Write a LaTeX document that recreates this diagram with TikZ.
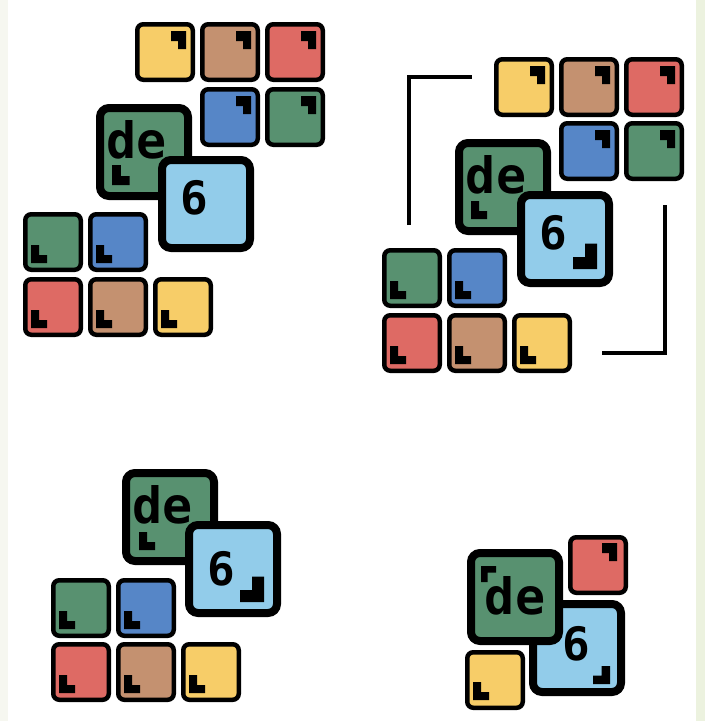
\documentclass[tikz,border=0pt]{standalone}
\usepackage{xcolor}
\usepackage{tikz}
\usepackage{fontspec}
\newfontfamily\pixfont{DejaVu Sans Mono}

\definecolor{tyellow}{RGB}{247,205,104}
\definecolor{tbrown}{RGB}{196,145,112}
\definecolor{tred}{RGB}{222,106,100}
\definecolor{tblue}{RGB}{86,134,199}
\definecolor{tgreen}{RGB}{88,145,112}
\definecolor{tsky}{RGB}{146,204,234}
\definecolor{edgeleft}{RGB}{246,247,240}
\definecolor{edgeright}{RGB}{236,242,223}

\begin{document}
\begin{tikzpicture}[x=1pt,y=-1pt]
  \tikzstyle{tile} = [draw, line width=4.5pt, rounded corners=6pt, minimum size=55.5pt, inner sep=0pt]
  \tikzstyle{bigtile} = [draw, line width=8pt, rounded corners=9pt, minimum size=88pt, inner sep=0pt]
  \tikzstyle{word} = [inner sep=0pt, font=\pixfont\bfseries\fontsize{50}{50}\selectfont]
  \tikzstyle{digit} = [inner sep=0pt, font=\pixfont\bfseries\fontsize{46}{46}\selectfont]
  \tikzstyle{bracket} = [line width=3.4pt]
  \tikzset{
    sw mark/.pic={\fill (0,0) -- (0,-18) -- (8,-18) -- (8,-8) -- (16,-8) -- (16,0) -- cycle;},
    ne mark/.pic={\fill (0,0) -- (-15,0) -- (-15,10) -- (-8,10) -- (-8,18) -- (0,18) -- cycle;},
    se mark/.pic={\fill (0,0) -- (0,-17) -- (-8,-17) -- (-8,-8) -- (-16,-8) -- (-16,0) -- cycle;},
    nw mark/.pic={\fill (0,0) -- (16,0) -- (16,7) -- (7,7) -- (7,17) -- (0,17) -- cycle;}
  }

  \useasboundingbox (0,0) rectangle (705,721);
  \fill[edgeleft] (0,0) rectangle (8,721);
  \fill[edgeright] (696,0) rectangle (705,721);

  % top left group
  \node[tile, fill=tyellow] (aYel1) at (165,52) {};
  \node[tile, fill=tbrown] (aBrn1) at (230,52) {};
  \node[tile, fill=tred] (aRed1) at (295,52) {};
  \node[tile, fill=tblue] (aBlu1) at (230,117) {};
  \node[tile, fill=tgreen] (aGrn1) at (295,117) {};
  \node[tile, fill=tgreen] (aGrn2) at (53,242) {};
  \node[tile, fill=tblue] (aBlu2) at (118,242) {};
  \node[tile, fill=tred] (aRed2) at (53,307) {};
  \node[tile, fill=tbrown] (aBrn2) at (118,307) {};
  \node[tile, fill=tyellow] (aYel2) at (183,307) {};
  \foreach \n in {aYel1,aBrn1,aRed1,aBlu1,aGrn1}
    \pic at ([shift={(-9,9)}]\n.north east) {ne mark};
  \foreach \n in {aGrn2,aBlu2,aRed2,aBrn2,aYel2}
    \pic at ([shift={(8,-9)}]\n.south west) {sw mark};
  \node[bigtile, fill=tgreen] (aDe) at (144,152) {};
  \node[word] (aDeTxt) at ([shift={(-7,-12)}]aDe.center) {de};
  \pic[scale=1.1] at ([shift={(16,-15)}]aDe.south west) {sw mark};
  \node[bigtile, fill=tsky] (aSix) at (206,204) {};
  \node[digit] (aSixTxt) at ([shift={(-12,-6)}]aSix.center) {6};

  % top right group
  \node[tile, fill=tyellow] (bYel1) at (524,87) {};
  \node[tile, fill=tbrown] (bBrn1) at (589,87) {};
  \node[tile, fill=tred] (bRed1) at (654,87) {};
  \node[tile, fill=tblue] (bBlu1) at (589,151) {};
  \node[tile, fill=tgreen] (bGrn1) at (654,151) {};
  \node[tile, fill=tgreen] (bGrn2) at (412,278) {};
  \node[tile, fill=tblue] (bBlu2) at (477,278) {};
  \node[tile, fill=tred] (bRed2) at (412,343) {};
  \node[tile, fill=tbrown] (bBrn2) at (477,343) {};
  \node[tile, fill=tyellow] (bYel2) at (542,343) {};
  \foreach \n in {bYel1,bBrn1,bRed1,bBlu1,bGrn1}
    \pic at ([shift={(-9,9)}]\n.north east) {ne mark};
  \foreach \n in {bGrn2,bBlu2,bRed2,bBrn2,bYel2}
    \pic at ([shift={(8,-9)}]\n.south west) {sw mark};
  \node[bigtile, fill=tgreen] (bDe) at (503,187) {};
  \node[word] (bDeTxt) at ([shift={(-7,-12)}]bDe.center) {de};
  \pic at ([shift={(16,-16)}]bDe.south west) {sw mark};
  \node[bigtile, fill=tsky] (bSix) at (565,239) {};
  \node[digit] (bSixTxt) at ([shift={(-12,-6)}]bSix.center) {6};
  \pic[scale=1.5] at ([shift={(-16,-18)}]bSix.south east) {se mark};
  % corner brackets
  \coordinate (bkA1) at (409,225);
  \coordinate (bkA2) at (409,77);
  \coordinate (bkA3) at (472,77);
  \coordinate (bkB1) at (665,205);
  \coordinate (bkB2) at (665,353);
  \coordinate (bkB3) at (602,353);
  \draw[bracket] (bkA1) -- (bkA2) -- (bkA3);
  \draw[bracket] (bkB1) -- (bkB2) -- (bkB3);

  % bottom left group
  \node[tile, fill=tgreen] (cGrn) at (81,608) {};
  \node[tile, fill=tblue] (cBlu) at (146,608) {};
  \node[tile, fill=tred] (cRed) at (81,672) {};
  \node[tile, fill=tbrown] (cBrn) at (146,672) {};
  \node[tile, fill=tyellow] (cYel) at (211,672) {};
  \foreach \n in {cGrn,cBlu,cRed,cBrn,cYel}
    \pic at ([shift={(8,-9)}]\n.south west) {sw mark};
  \node[bigtile, fill=tgreen] (cDe) at (170,517) {};
  \node[word] (cDeTxt) at ([shift={(-7,-12)}]cDe.center) {de};
  \pic at ([shift={(17,-15)}]cDe.south west) {sw mark};
  \node[bigtile, fill=tsky] (cSix) at (233,569) {};
  \node[digit] (cSixTxt) at ([shift={(-12,0)}]cSix.center) {6};
  \pic[scale=1.5] at ([shift={(-17,-15)}]cSix.south east) {se mark};

  % bottom right group
  \node[tile, fill=tred] (dRed) at (598,565) {};
  \pic at ([shift={(-11,8)}]dRed.north east) {ne mark};
  \node[tile, fill=tyellow] (dYel) at (495,680) {};
  \pic at ([shift={(8,-10)}]dYel.south west) {sw mark};
  \node[bigtile, fill=tsky] (dSix) at (577,648) {};
  \node[digit] (dSixTxt) at ([shift={(-1,-4)}]dSix.center) {6};
  \pic[scale=1.05] at ([shift={(-15,-12)}]dSix.south east) {se mark};
  \node[bigtile, fill=tgreen] (dDe) at (515,597) {};
  \node[word] (dDeTxt) at ([shift={(0,-1)}]dDe.center) {de};
  \pic[scale=0.95] at ([shift={(14,17)}]dDe.north west) {nw mark};
\end{tikzpicture}
\end{document}
